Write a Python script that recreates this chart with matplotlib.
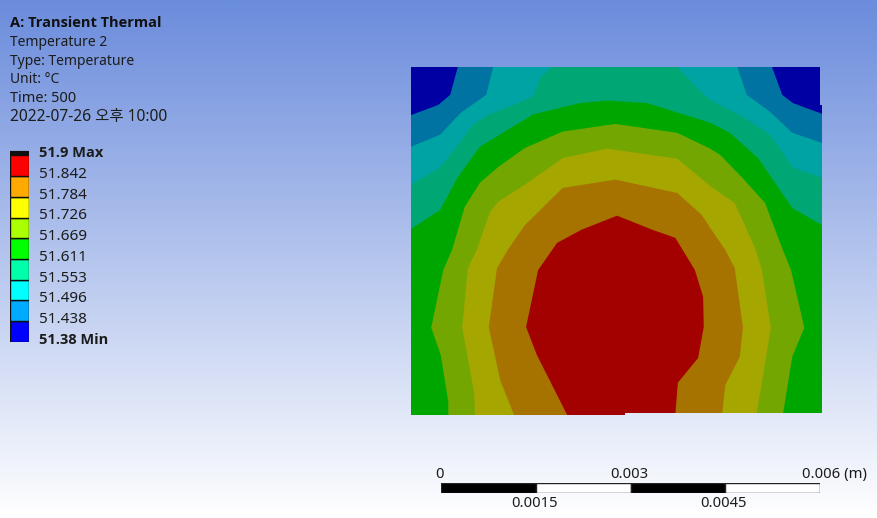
import matplotlib
matplotlib.use("Agg")
import matplotlib.pyplot as plt
import numpy as np
from matplotlib.colors import LinearSegmentedColormap
from matplotlib.patches import Polygon

# legend levels, degrees C
levels = [51.38, 51.438, 51.496, 51.553, 51.611, 51.669, 51.726, 51.784, 51.842, 51.9]
level_labels = ["51.38 Min", "51.438", "51.496", "51.553", "51.611", "51.669",
                "51.726", "51.784", "51.842", "51.9 Max"]
legend_colors = ["#0000ff", "#00aaff", "#00ffff", "#00ffaa", "#00ff00",
                 "#aaff00", "#ffff00", "#ffaa00", "#ff0000"]

header = ["Temperature 2", "Type: Temperature", "Unit: °C", "Time: 500",
          "2022-07-26 오후 10:00"]
header_sizes = [10, 10, 10, 10.5, 11.2]
title = "A: Transient Thermal"

# scale bar, metres
scale_ticks = [0, 0.0015, 0.003, 0.0045, 0.006]
scale_top = ["0", "0.003", "0.006 (m)"]
scale_bottom = ["0.0015", "0.0045"]

# plate size, mm
plate_w = 6.5
plate_h = 5.5
plate_outline = [(0, 0), (3.38, 0), (3.38, 0.024), (6.5, 0.024), (6.5, 4.9), (6.47, 4.9),
                 (6.47, 5.5), (0, 5.5)]

# contour bands, mm, outermost first: each one is "temperature above this level"
band_colors = ["#0073a3", "#00a3a3", "#00a673", "#00a600", "#73a600",
               "#a6a600", "#a67300", "#a30000"]
base_color = "#0000a3"

band1 = [(0.74, 5.5), (0.62, 5.06), (0.43, 4.90), (0, 4.74), (0, 0), (6.5, 0),
         (6.5, 4.76), (6.04, 4.93), (5.87, 5.06), (5.71, 5.5)]
band2 = [(1.30, 5.5), (1.19, 5.06), (0.78, 4.77), (0.46, 4.43), (0, 4.24), (0, 0), (6.5, 0),
         (6.5, 4.30), (6.03, 4.46), (5.68, 4.79), (5.31, 5.06), (5.16, 5.5)]
band3 = [(2.23, 5.5), (2.04, 5.33), (1.93, 5.03), (1.22, 4.74), (0.98, 4.59), (0.77, 4.30),
         (0.46, 3.91), (0, 3.64), (0, 0), (6.5, 0), (6.5, 3.75), (6.04, 3.91), (5.68, 4.43),
         (5.25, 4.71), (4.73, 4.98), (4.60, 5.09), (4.21, 5.5)]
band4 = [(0, 0), (0, 2.94), (0.46, 3.24), (0.74, 3.76), (1.09, 4.24), (1.60, 4.55), (1.93, 4.75),
         (2.67, 4.93), (3.10, 4.97), (3.73, 4.93), (4.73, 4.62), (5.04, 4.46), (5.49, 4.06),
         (6.03, 3.27), (6.5, 3.00), (6.5, 0)]
band5 = [(0.59, 0), (0.59, 0.21), (0.47, 0.95), (0.32, 1.38), (0.51, 2.29), (0.65, 2.61),
         (0.85, 3.29), (1.09, 3.67), (1.38, 3.92), (1.80, 4.22), (2.40, 4.48), (3.23, 4.60),
         (4.21, 4.46), (4.73, 4.21), (4.89, 4.11), (5.23, 3.76), (5.60, 3.35), (5.88, 2.61),
         (6.01, 2.29), (6.22, 1.38), (6.03, 0.92), (5.88, 0)]
band6 = [(1.01, 0), (1.00, 0.35), (0.81, 1.38), (0.90, 2.32), (1.04, 2.61), (1.25, 3.21),
         (1.38, 3.37), (1.80, 3.64), (2.40, 4.06), (3.10, 4.21), (4.21, 4.05), (4.73, 3.62),
         (5.12, 3.35), (5.44, 2.64), (5.55, 2.29), (5.69, 1.38), (5.55, 0.51), (5.46, 0)]
band7 = [(1.63, 0), (1.41, 0.55), (1.23, 1.39), (1.36, 2.32), (1.53, 2.61), (1.80, 3.00),
         (2.40, 3.59), (3.23, 3.72), (4.21, 3.51), (4.60, 3.16), (4.73, 2.96), (4.97, 2.61),
         (5.12, 2.32), (5.25, 1.39), (5.20, 0.92), (4.97, 0.47), (4.92, 0)]
band8 = [(2.47, 0), (1.99, 0.95), (1.82, 1.39), (2.01, 2.29), (2.31, 2.72), (2.70, 2.93),
         (3.26, 3.15), (3.81, 2.93), (4.18, 2.80), (4.49, 2.29), (4.62, 1.87), (4.63, 1.39),
         (4.54, 0.90), (4.22, 0.51), (4.18, 0)]
bands = [band1, band2, band3, band4, band5, band6, band7, band8]

W, H = 877, 518
plt.rcParams["font.family"] = ["Noto Sans", "Noto Sans CJK KR", "DejaVu Sans"]
text_color = "#1c1c1c"
bold_font = "Open Sans"


def px_axes(fig, x0, y0, x1, y1):
    # axes from pixel box, y measured from the top of the image
    ax = fig.add_axes([x0 / W, 1 - y1 / H, (x1 - x0) / W, (y1 - y0) / H])
    return ax


fig = plt.figure(figsize=(W / 100, H / 100), dpi=100)

# background gradient
bg = fig.add_axes([0, 0, 1, 1])
cmap = LinearSegmentedColormap.from_list("bg", ["#6b8cdc", "#ffffff"])
bg.imshow(np.linspace(0, 1, 256).reshape(-1, 1), aspect="auto", cmap=cmap, extent=(0, W, H, 0))
bg.set_xlim(0, W)
bg.set_ylim(H, 0)
bg.axis("off")

# header text
bg.text(9.5, 23, title, fontsize=10.5, fontweight="bold", family=bold_font, color="#111111",
        va="center")
for i, line in enumerate(header):
    bg.text(10, 42.3 + i * 18.8, line, fontsize=header_sizes[i], color=text_color, va="center")

# contour plate
ax = px_axes(fig, 411, 67, 822, 415)
ax.set_xlim(0, plate_w)
ax.set_ylim(0, plate_h)
ax.axis("off")
clip = Polygon(plate_outline, closed=True, transform=ax.transData)
ax.add_patch(Polygon(plate_outline, closed=True, facecolor=base_color, edgecolor="none"))
for pts, c in zip(bands, band_colors):
    p = ax.add_patch(Polygon(pts, closed=True, facecolor=c, edgecolor="none"))
    p.set_clip_path(clip)

# legend bar
leg = px_axes(fig, 10, 155, 29, 342)
for i, c in enumerate(legend_colors):
    leg.bar(0, levels[i + 1] - levels[i], bottom=levels[i], width=1, color=c,
            edgecolor="#101010", linewidth=1)
leg.set_xlim(-0.5, 0.5)
leg.set_ylim(levels[0], levels[-1])
leg.axis("off")
for lv, lab in zip(levels, level_labels):
    bold = "M" in lab
    leg.annotate(lab, xy=(1, lv), xycoords=("axes fraction", "data"), xytext=(7.5, 1.2),
                 textcoords="offset points", fontsize=10.5 if bold else 11, va="center",
                 color=text_color, fontweight="bold" if bold else "normal",
                 family=bold_font if bold else None, annotation_clip=False)
bg.plot([10, 29], [153.3, 153.3], color="#101010", lw=3, solid_capstyle="butt")

# scale bar
sc = px_axes(fig, 441, 483, 820, 493)
for i in range(4):
    sc.barh(0, scale_ticks[i + 1] - scale_ticks[i], left=scale_ticks[i], height=1,
            color="#000000" if i % 2 == 0 else "#ffffff", edgecolor="#222222", linewidth=1)
sc.set_xlim(0, 0.006)
sc.set_ylim(-0.5, 0.5)
sc.axis("off")
top_pos = [scale_ticks[0], scale_ticks[2], scale_ticks[4]]
for v, lab in zip(top_pos, scale_top):
    if lab == scale_top[-1]:
        sc.annotate(lab, xy=(v, 1), xycoords=("data", "axes fraction"), xytext=(-13, 6),
                    textcoords="offset points", fontsize=10.7, color=text_color, va="center",
                    annotation_clip=False)
    else:
        sc.annotate(lab, xy=(v, 1), xycoords=("data", "axes fraction"), xytext=(-1, 6),
                    textcoords="offset points", fontsize=10.7, color=text_color, ha="center",
                    va="center", annotation_clip=False)
for v, lab in zip([scale_ticks[1], scale_ticks[3]], scale_bottom):
    sc.annotate(lab, xy=(v, 0), xycoords=("data", "axes fraction"), xytext=(-1, -7.5),
                textcoords="offset points", fontsize=10.7, color=text_color, ha="center",
                va="center", annotation_clip=False)

fig.savefig("out.png", dpi=100)
